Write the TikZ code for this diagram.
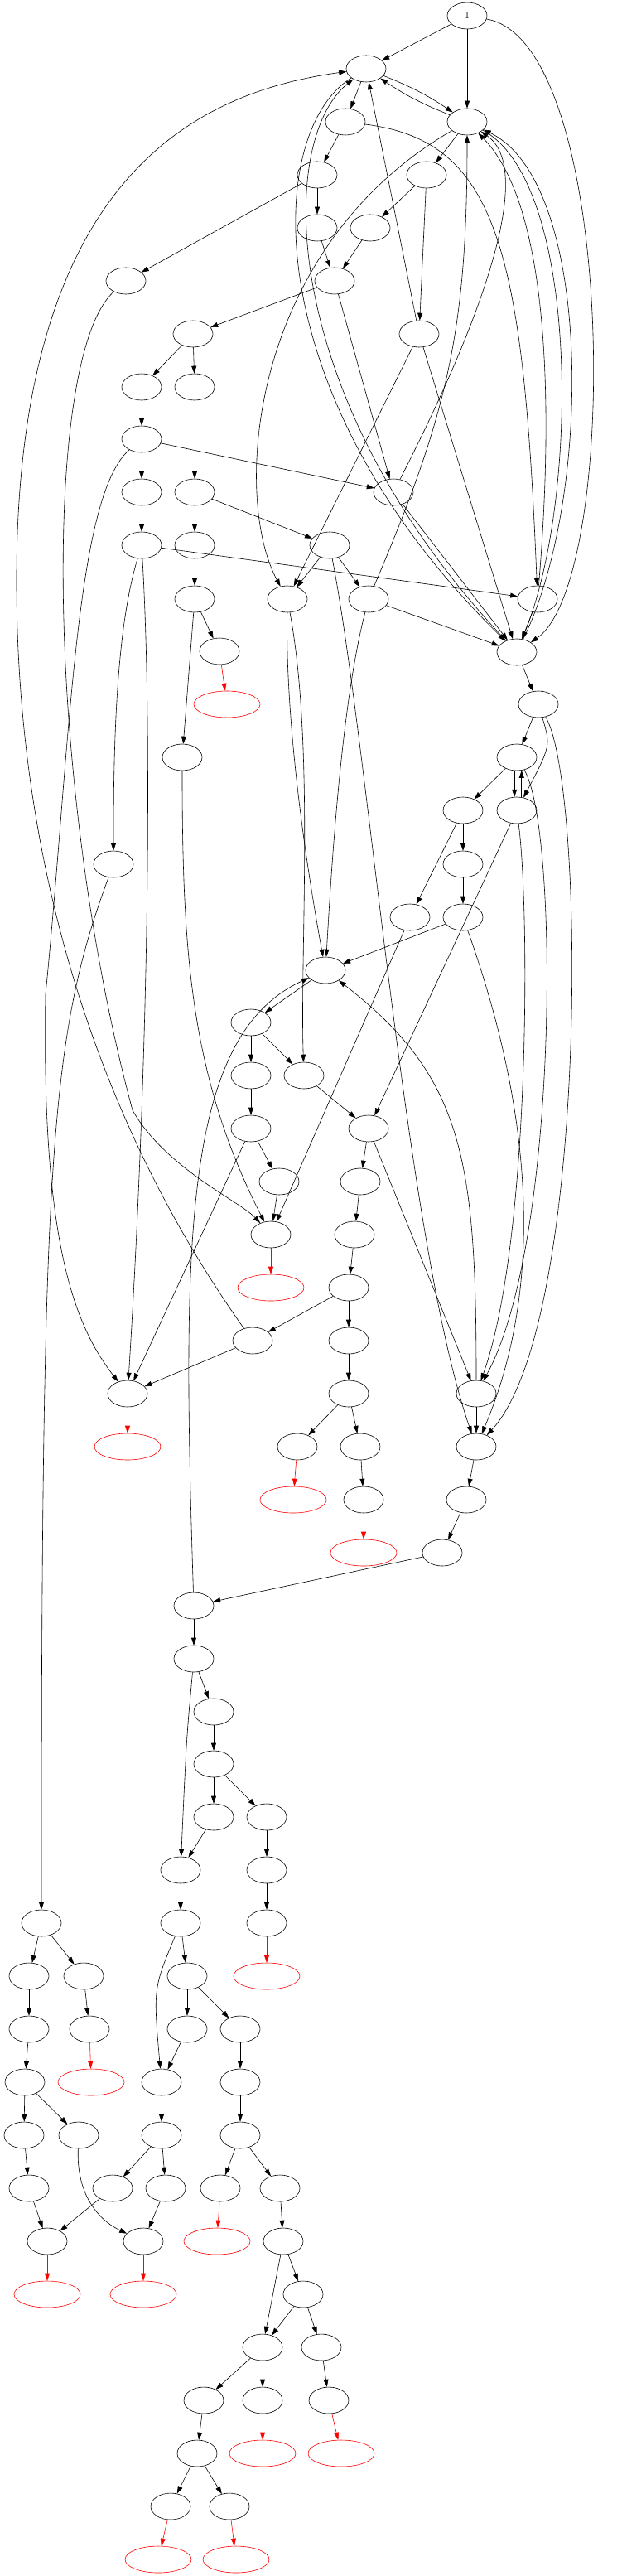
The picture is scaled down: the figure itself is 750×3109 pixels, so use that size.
\documentclass[tikz,border=0pt]{standalone}
\usetikzlibrary{shapes.geometric,arrows.meta}
\tikzset{
  vtx/.style={draw,ellipse,minimum width=48pt,minimum height=32pt,inner sep=0pt,line width=0.6pt},
  leaf/.style={draw=red,ellipse,minimum width=80pt,minimum height=32pt,inner sep=0pt,line width=0.6pt},
  edge/.style={-{Triangle[length=9pt,width=6pt]},line width=0.6pt},
  redge/.style={edge,red}
}
\begin{document}
\begin{tikzpicture}[x=1pt,y=-1pt]
    \useasboundingbox (0,0) rectangle (750,3109);

    % 起点
    \node[vtx,font=\large] (n1) at (564,19) {1};

    % 普通结点
    \foreach \n/\x/\y in {a/442/83, b/564/147, c/417/147, d/383/211, e/515/211,
        f/383/275, g/447/275, h/152/339, i/404/339, j/233/403, k/506/403,
        l/171/467, m/235/467, n/171/530, o/171/594, p/235/594, q/475/594,
        r/171/658, s/235/658, t/398/658, u/235/723, v/347/723, w/445/723, x/649/723,
        y/265/786, z/624/787, C/650/850, A/220/914, D/624/914, E/559/978, F/624/978,
        G/137/1043, H/559/1043, I/495/1107, J/559/1107, K/393/1171, L/303/1234,
        M/303/1298, N/367/1298, O/303/1362, P/445/1362, Q/337/1426, R/435/1426,
        S/327/1490, T/428/1490, U/421/1554, V/305/1618, W/421/1618,
        X/154/1682, Y/421/1682, Z/575/1682, AA/359/1746, AB/435/1746, AC/575/1746,
        AD/439/1810, AE/563/1810, AF/534/1874, AG/234/1938, AH/234/2002,
        AI/258/2066, AJ/258/2129, AK/258/2193, AL/322/2193, AM/218/2257, AN/322/2257,
        BA/50/2321, AO/218/2321, AP/322/2321, BB/35/2385, BC/101/2385, AQ/226/2385,
        BD/35/2449, BE/108/2449, AR/226/2449, AS/290/2449,
        BF/30/2513, AT/195/2513, AU/290/2513, BG/29/2577, BH/95/2577, AV/195/2577, AW/290/2577,
        BI/35/2641, AX/136/2641, AY/200/2641, AZ/266/2641, CA/338/2641,
        CB/57/2705, CC/173/2705, CD/342/2705, CE/366/2769,
        CF/317/2833, CG/388/2833, CH/246/2897, CI/317/2897, CJ/397/2897,
        CK/238/2961, CL/206/3025, CM/277/3025}
        \node[vtx] (\n) at (\x,\y) {};

    % 红色叶子
    \foreach \n/\x/\y in {ra/274/850, rb/327/1554, rc/154/1746, rd/354/1810, re/439/1874,
        rf/322/2385, rg/110/2513, rh/262/2705, ri/57/2769, rj/173/2769,
        rk/317/2961, rl/412/2961, rm/191/3089, rn/285/3089}
        \node[leaf] (\n) at (\x,\y) {};

    % 直边
    \foreach \s/\t in {n1/a, n1/b, a/c, b/e, c/d, d/f, d/h, e/g, e/k, f/i, g/i,
        i/j, i/q, j/l, j/m, l/n, m/p, n/o, n/q, o/r, p/s, p/t, s/u, t/v, t/w,
        u/y, u/A, k/v, k/z, k/a, q/z, w/z, x/z, r/x, z/C, C/D, D/E, E/H, E/I,
        H/J, J/K, K/L, L/M, L/N, M/O, N/P, O/Q, O/X, Q/S, P/R, P/Z, R/T, T/U,
        U/V, U/W, W/Y, Y/AA, Y/AB, AB/AD, V/X, I/S, F/P, Z/AC, AC/AE, AE/AF,
        AF/AG, AG/AH, AH/AI, AI/AJ, AJ/AK, AJ/AL, AK/AM, AL/AN, AM/AO, AN/AP,
        AO/AQ, AQ/AR, AQ/AS, AR/AT, AS/AU, AT/AV, AU/AW, AV/AX, AV/AY, AW/AZ,
        AW/CA, CA/CD, CD/CE, CD/CF, CE/CF, CE/CG, CF/CH, CF/CI, CG/CJ, CH/CK,
        CK/CL, CK/CM, AX/CB, AY/CC, BI/CB, BA/BB, BA/BC, BB/BD, BC/BE, BD/BF,
        BF/BG, BF/BH, BG/BI}
        \draw[edge] (\s) -- (\t);

    % 红边
    \foreach \s/\t in {y/ra, S/rb, X/rc, AA/rd, AD/re, AP/rf, BE/rg, AZ/rh,
        CB/ri, CC/rj, CI/rk, CJ/rl, CL/rm, CM/rn}
        \draw[redge] (\s) -- (\t);

    % 双向边
    \draw[edge] (a) to[bend left=6] (b);
    \draw[edge] (b) to[bend left=6] (a);
    \draw[edge] (D.-100) -- (F.100);
    \draw[edge] (F.70) -- (D.-70);

    % 长弯边
    \draw[edge] (n1) .. controls (745,50) and (750,700) .. (z);
    \draw[edge] (a) .. controls (318,160) and (310,480) .. (z);
    \draw[edge] (z) .. controls (334,480) and (334,170) .. (a);
    \draw[edge] (b) .. controls (700,220) and (700,600) .. (z);
    \draw[edge] (z) .. controls (716,600) and (716,220) .. (b);
    \draw[edge] (c) .. controls (600,170) and (632,300) .. (x);
    \draw[edge] (b) .. controls (300,300) and (280,600) .. (v);
    \draw[edge] (q) .. controls (600,350) and (640,200) .. (b);
    \draw[edge] (w) .. controls (540,500) and (564,400) .. (b);
    \draw[edge] (x) .. controls (668,500) and (665,250) .. (b);
    \draw[edge] (h) .. controls (50,430) and (55,950) .. (160,1340)
        .. controls (200,1410) and (290,1450) .. (S);
    \draw[edge] (n) .. controls (90,600) and (85,900) .. (55,1200)
        .. controls (50,1500) and (90,1600) .. (X);
    \draw[edge] (r) .. controls (140,760) and (137,900) .. (G);
    \draw[edge] (r) .. controls (185,900) and (178,1300) .. (X);
    \draw[edge] (G) .. controls (60,1250) and (50,1400) .. (BA);
    \draw[edge] (V) .. controls (150,1400) and (20,1100) .. (20,700)
        .. controls (20,200) and (250,110) .. (a);
    \draw[edge] (A) .. controls (220,1150) and (230,1300) .. (S);
    \draw[edge] (AG) .. controls (220,1500) and (220,1250) .. (K);
    \draw[edge] (v) .. controls (344,900) and (380,1100) .. (K);
    \draw[edge] (v) .. controls (380,900) and (362,1150) .. (N);
    \draw[edge] (w) .. controls (412,850) and (400,1050) .. (K);
    \draw[edge] (t) .. controls (445,900) and (490,1500) .. (AC);
    \draw[edge] (J) .. controls (610,1250) and (680,1500) .. (AC);
    \draw[edge] (F) .. controls (640,1100) and (640,1500) .. (Z);
    \draw[edge] (D) .. controls (675,1000) and (675,1500) .. (Z);
    \draw[edge] (C) .. controls (665,900) .. (F);
    \draw[edge] (C) .. controls (708,950) and (710,1600) .. (AC);
    \draw[edge] (Z) .. controls (575,1400) and (560,1300) .. (K);
    \draw[edge] (AH) .. controls (225,2100) .. (AM);
    \draw[edge] (AO) .. controls (185,2400) .. (AT);
    \draw[edge] (BH) .. controls (92,2650) and (120,2680) .. (CC);

\end{tikzpicture}
\end{document}
